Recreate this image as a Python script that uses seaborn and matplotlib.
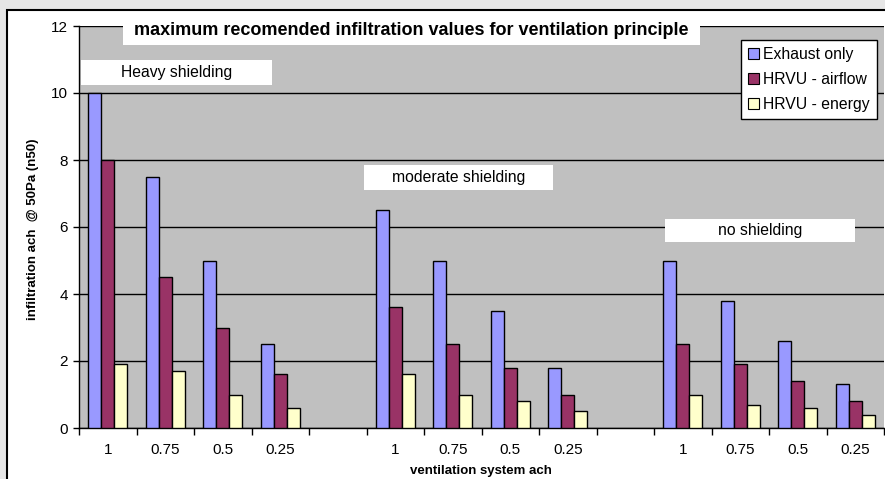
import matplotlib
matplotlib.use("Agg")
import matplotlib.pyplot as plt
from matplotlib.patches import Rectangle, Patch
import seaborn as sns
import pandas as pd

# ---- data ----
groups = ["Heavy shielding", "moderate shielding", "no shielding"]
vent_ach = ["1", "0.75", "0.5", "0.25"]
series = ["Exhaust only", "HRVU - airflow", "HRVU - energy"]
exhaust_only = [10, 7.5, 5, 2.5, 6.5, 5, 3.5, 1.8, 5, 3.8, 2.6, 1.3]
hrvu_airflow = [8, 4.5, 3, 1.6, 3.6, 2.5, 1.8, 1.0, 2.5, 1.9, 1.4, 0.8]
hrvu_energy = [1.9, 1.7, 1.0, 0.6, 1.6, 1.0, 0.8, 0.5, 1.0, 0.7, 0.6, 0.4]
colors = ["#9999FF", "#993366", "#FFFFCC"]

# category keys incl. blank spacer categories
order = []
tick_labels = []
for gi, g in enumerate(groups):
    for v in vent_ach:
        order.append(f"{gi}_{v}")
        tick_labels.append(v)
    if gi < len(groups) - 1:
        order.append(f"gap{gi}")
        tick_labels.append("")

rows = []
for s, vals in zip(series, [exhaust_only, hrvu_airflow, hrvu_energy]):
    k = 0
    for gi, g in enumerate(groups):
        for v in vent_ach:
            rows.append({"cat": f"{gi}_{v}", "series": s, "value": vals[k]})
            k += 1
df = pd.DataFrame(rows)

W, H = 885, 479
fig = plt.figure(figsize=(W / 100, H / 100), dpi=100)
fig.patch.set_facecolor("#E6E6E6")
plt.rcParams["font.family"] = ["Liberation Sans", "DejaVu Sans"]

def fx(px):
    return px / W

def fy(py):
    return 1 - py / H

# white chart area with black frame
fig.patches.append(Rectangle((fx(7), fy(520)), fx(900), fy(10) - fy(520),
                             transform=fig.transFigure, facecolor="white",
                             edgecolor="black", linewidth=1.5, zorder=-5))

ax = fig.add_axes([fx(79), fy(428), fx(884) - fx(79), fy(26) - fy(428)])
ax.set_zorder(1)
ax.set_facecolor("#C0C0C0")

sns.barplot(data=df, x="cat", y="value", hue="series", order=order,
            hue_order=series, palette=colors, width=0.68, saturation=1,
            edgecolor="black", linewidth=1, ax=ax, legend=False, zorder=3)

ax.set_xlim(-0.5, len(order) - 0.5)
ax.set_ylim(0, 12)
ax.set_yticks(range(0, 13, 2))
ax.set_yticklabels([str(v) for v in range(0, 13, 2)], fontsize=11)
ax.yaxis.grid(True, color="black", linewidth=1, zorder=1)
ax.set_axisbelow(True)
ax.tick_params(axis="y", length=4, width=1, color="black", pad=4)

ax.set_xticks(range(len(order)))
ax.set_xticklabels(tick_labels, fontsize=11)
ax.tick_params(axis="x", which="major", length=0, pad=11)
ax.set_xticks([i - 0.5 for i in range(len(order) + 1)], minor=True)
ax.tick_params(axis="x", which="minor", length=5, width=1, color="black", direction="out")

for sp in ["top", "right"]:
    ax.spines[sp].set_visible(False)
for sp in ["left", "bottom"]:
    ax.spines[sp].set_color("black")
    ax.spines[sp].set_linewidth(1)

ax.set_xlabel("")
ax.set_ylabel("")
fig.text(fx(33), fy(229), "infiltration ach  @ 50Pa (n50)", rotation=90,
         fontsize=9.5, fontweight="bold", ha="center", va="center")
fig.text(fx(481), fy(471), "ventilation system ach", fontsize=9.5,
         fontweight="bold", ha="center", va="center")

# white label boxes
def box(x0, y0, x1, y1, text, bold=False, size=11.3):
    fig.patches.append(Rectangle((fx(x0), fy(y1)), fx(x1) - fx(x0), fy(y0) - fy(y1),
                                 transform=fig.transFigure, facecolor="white",
                                 edgecolor="none", zorder=5))
    fig.text(fx((x0 + x1) / 2), fy((y0 + y1) / 2), text, ha="center", va="center",
             fontsize=size, fontweight="bold" if bold else "normal", zorder=6)

box(123, 16, 700, 45, "maximum recomended infiltration values for ventilation principle",
    bold=True, size=13)
box(81, 60, 272, 85, "Heavy shielding")
box(364, 165, 553, 190, "moderate shielding")
box(665, 219, 855, 242, "no shielding")

handles = [Patch(facecolor=c, edgecolor="black", linewidth=0.8, label=s)
           for c, s in zip(colors, series)]
leg = fig.legend(handles=handles, loc="upper right",
                 bbox_to_anchor=(fx(877), fy(40)), fontsize=11.3, frameon=True,
                 fancybox=False, edgecolor="black", framealpha=1,
                 handlelength=0.7, handleheight=0.7, handletextpad=0.3,
                 labelspacing=0.62, borderpad=0.45, borderaxespad=0)
leg.get_frame().set_linewidth(1)
leg.set_zorder(10)

fig.savefig("out.png", dpi=100, facecolor=fig.get_facecolor())
